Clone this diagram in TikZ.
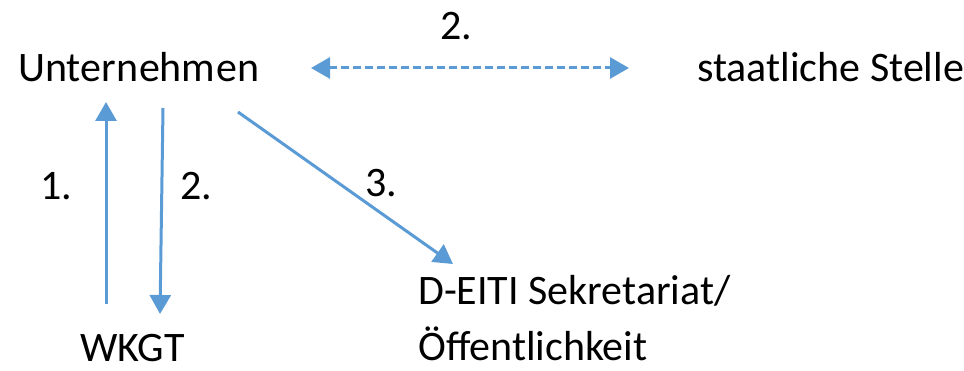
\documentclass[tikz,border=0pt]{standalone}
\usepackage{fontspec}
\setmainfont{Carlito}
\usetikzlibrary{arrows.meta}
\definecolor{arrblue}{HTML}{5B9BD5}
\tikzset{
  lbl/.style={inner sep=0pt, anchor=base west, font=\fontsize{42}{50}\selectfont},
  conn/.style={draw=arrblue, line width=3pt, -{Triangle[length=19pt,width=21pt]}},
}
\begin{document}
\begin{tikzpicture}[x=1pt,y=-1pt]
\useasboundingbox (0,0) rectangle (964,371);
\node[lbl] (u) at (18,82) {Unter\kern1pt nehm\kern1pt en};
\node[lbl] (s) at (697,82) {staatliche Stelle};
\node[lbl] (n2a) at (440,40) {2.};
\node[lbl] (n1) at (40,200) {1.};
\node[lbl] (n2b) at (180,200) {2.};
\node[lbl] (n3) at (365,197) {3.};
\node[lbl] (d) at (418,305) {D-EITI Sekretariat/};
\node[lbl] (o) at (418,360) {Öffentlichkeit};
\node[lbl] (w) at (80,362) {WKGT};
\coordinate (h1) at (311,68);
\coordinate (h2) at (629,68);
\coordinate (up1) at (106,304);
\coordinate (up2) at (106,102);
\coordinate (dn1) at (163,108);
\coordinate (dn2) at (160,314);
\coordinate (dg1) at (238,112);
\coordinate (dg2) at (453,264);
\draw[conn, {Triangle[length=19pt,width=21pt]}-{Triangle[length=19pt,width=21pt]}, dash pattern=on 8pt off 4pt] (h1) -- (h2);
\draw[conn] (up1) -- (up2);
\draw[conn] (dn1) -- (dn2);
\draw[conn] (dg1) -- (dg2);
\end{tikzpicture}
\end{document}
